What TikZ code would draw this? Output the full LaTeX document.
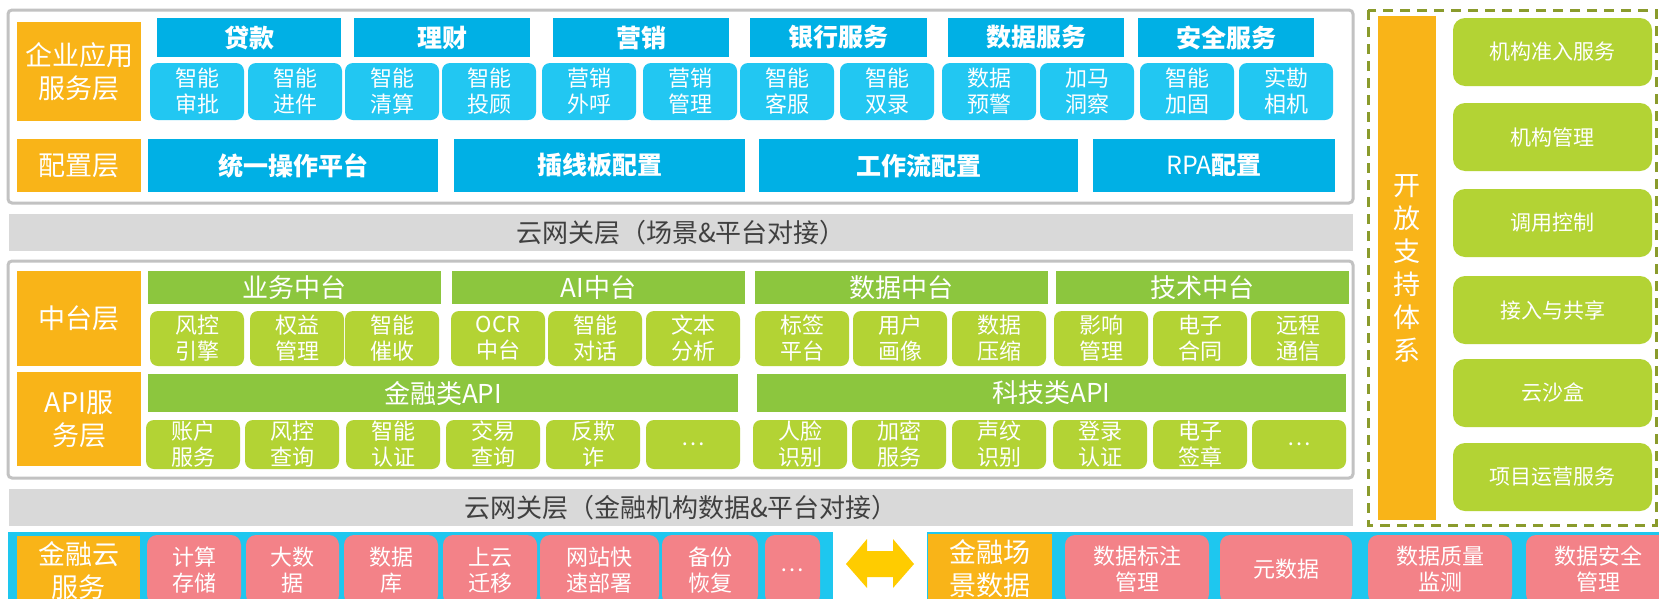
\documentclass[tikz,border=0pt]{standalone}
\usepackage{fontspec}
\setmainfont{Noto Sans CJK SC}
\definecolor{layorange}{HTML}{F9B418}
\definecolor{hdblue}{HTML}{00B0E5}
\definecolor{itblue}{HTML}{22C7F2}
\definecolor{hdgreen}{HTML}{8CC63E}
\definecolor{itgreen}{HTML}{B3D334}
\definecolor{gwgray}{HTML}{D9D9D9}
\definecolor{gwtext}{HTML}{404040}
\definecolor{framegray}{HTML}{C2C2C2}
\definecolor{itpink}{HTML}{F38288}
\definecolor{bandcyan}{HTML}{1EC7EF}
\definecolor{dashgreen}{HTML}{8A9B2C}
\definecolor{arrowyel}{HTML}{FFCC00}
\begin{document}
\begin{tikzpicture}[x=1pt,y=-1pt,
lay/.style={fill=layorange,text=white,align=center,font=\fontsize{27}{33}\selectfont},
hdb/.style={fill=hdblue,text=white,font=\bfseries\fontsize{25}{30}\selectfont},
itb/.style={fill=itblue,text=white,rounded corners=8pt,align=center,font=\fontsize{22}{26}\selectfont},
hdg/.style={fill=hdgreen,text=white,font=\fontsize{26}{30}\selectfont},
itg/.style={fill=itgreen,text=white,rounded corners=8pt,align=center,font=\fontsize{22}{26}\selectfont},
gw/.style={fill=gwgray,text=gwtext,font=\fontsize{26}{30}\selectfont},
itp/.style={fill=itpink,text=white,rounded corners=10pt,align=center,font=\fontsize{22}{26}\selectfont},
opsbox/.style={fill=itgreen,text=white,rounded corners=12pt,font=\fontsize{21}{25}\selectfont},
frame/.style={draw=framegray,line width=3pt,rounded corners=4pt}]
\clip (0,0) rectangle (1659,598);
\fill[white] (0,0) rectangle (1659,598);
\newcommand{\Tile}[7]{\node[#1,inner sep=0pt,minimum width={(#4-#3)*1pt},minimum height={(#6-#5)*1pt}] (#2) at ({(#3+#4)/2},{(#5+#6)/2}) {#7};}
\draw[frame] (8,10) rectangle (1353,203);
\Tile{lay}{app}{17}{141}{22}{121}{企业应用\\服务层}
\Tile{lay}{cfg}{17}{141}{139}{192}{配置层}
\foreach \a/\b/\t [count=\i] in {157/341/贷款,354/530/理财,553/729/营销,750/927/银行服务,948/1124/数据服务,1138/1314/安全服务}
  \Tile{hdb}{ha\i}{\a}{\b}{18}{57}{\t};
\foreach \x/\t [count=\i] in {150/智能\\审批,248/智能\\进件,345/智能\\清算,442/智能\\投顾,542/营销\\外呼,643/营销\\管理,740/智能\\客服,840/智能\\双录,942/数据\\预警,1040/加马\\洞察,1140/智能\\加固,1239/实勘\\相机}
  \Tile{itb}{ia\i}{\x}{\x+94}{63}{120}{\t};
\foreach \a/\b/\t [count=\i] in {148/438/统一操作平台,454/745/插线板配置,759/1078/工作流配置,1093/1335/{\mdseries RPA}配置}
  \Tile{hdb}{cf\i}{\a}{\b}{139}{192}{\t};
\Tile{gw}{gwup}{9}{1353}{214}{251}{云网关层（场景\&平台对接）}
\draw[frame] (8,261) rectangle (1353,478);
\Tile{lay}{mid}{17}{141}{271}{366}{中台层}
\Tile{lay}{api}{17}{141}{372}{466}{API服\\务层}
\foreach \a/\b/\t [count=\i] in {148/441/业务中台,452/745/AI中台,755/1048/数据中台,1056/1349/技术中台}
  \Tile{hdg}{hm\i}{\a}{\b}{271}{304}{\t};
\foreach \x/\t [count=\i] in {150/风控\\引擎,250/权益\\管理,345/智能\\催收,451/OCR\\中台,548/智能\\对话,646/文本\\分析,755/标签\\平台,853/用户\\画像,952/数据\\压缩,1054/影响\\管理,1153/电子\\合同,1251/远程\\通信}
  \Tile{itg}{im\i}{\x}{\x+94}{311}{366}{\t};
\Tile{hdg}{hfin}{148}{738}{374}{412}{金融类API}
\Tile{hdg}{htec}{757}{1346}{374}{412}{科技类API}
\foreach \x/\t [count=\i] in {146/账户\\服务,245/风控\\查询,346/智能\\认证,446/交易\\查询,546/反欺\\诈,646/…,753/人脸\\识别,852/加密\\服务,952/声纹\\识别,1053/登录\\认证,1153/电子\\签章,1252/…}
  \Tile{itg}{ip\i}{\x}{\x+94}{420}{469}{\t};
\Tile{gw}{gwdn}{9}{1353}{489}{526}{云网关层（金融机构数据\&平台对接）}
\fill[bandcyan] (8,532) rectangle (833,610);
\fill[bandcyan] (927,532) rectangle (1670,610);
\Tile{lay}{cloud}{17}{140}{536}{606}{金融云\\服务}
\foreach \a/\b/\t [count=\i] in {147/241/计算\\存储,246/339/大数\\据,344/438/数据\\库,443/537/上云\\迁移,540/659/网站快\\速部署,662/758/备份\\恢复,765/820/…}
  \Tile{itp}{cs\i}{\a}{\b}{535}{605}{\t};
\fill[arrowyel] (846,564) -- (867,539) -- (867,551) -- (893,551) -- (893,539) -- (914,564) -- (893,588) -- (893,577) -- (867,577) -- (867,588) -- cycle;
\Tile{lay}{scene}{928}{1052}{534}{604}{金融场\\景数据}
\foreach \a/\b/\t [count=\i] in {1065/1209/数据标注\\管理,1220/1352/元数据,1368/1512/数据质量\\监测,1526/1670/数据安全\\管理}
  \Tile{itp}{sd\i}{\a}{\b}{535}{604}{\t};
\draw[dashgreen,line width=3pt,dash pattern=on 10pt off 7pt] (1368,10) rectangle (1656,525);
\Tile{lay}{open}{1378}{1436}{16}{520}{开\\放\\支\\持\\体\\系}
\foreach \y/\t [count=\i] in {18/机构准入服务,103/机构管理,189/调用控制,276/接入与共享,359/云沙盒,443/项目运营服务}
  \Tile{opsbox}{op\i}{1453}{1652}{\y}{\y+68}{\t};
\end{tikzpicture}
\end{document}
